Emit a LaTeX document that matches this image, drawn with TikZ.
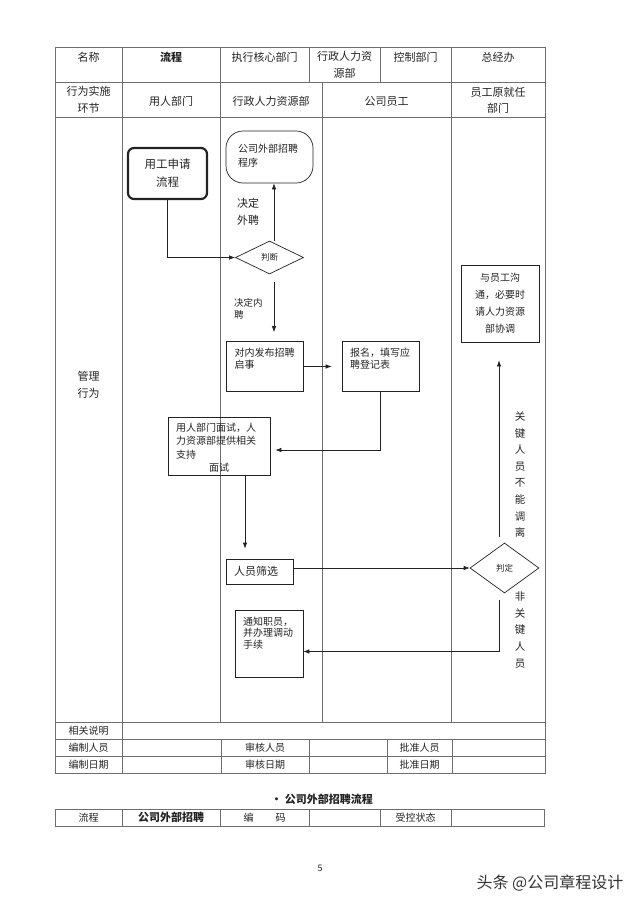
\documentclass[tikz,border=0pt]{standalone}
\usepackage{fontspec}
\setmainfont{Noto Sans CJK SC}
\usetikzlibrary{shapes.geometric,arrows.meta}
\definecolor{tabgray}{RGB}{110,110,110}
\definecolor{inkgray}{RGB}{35,35,35}
\newcommand{\boxtxt}[3]{\parbox[t][#2][t]{#1}{#3}}

\begin{document}
\begin{tikzpicture}[x=1pt,y=-1pt,
    tabline/.style={draw=tabgray,line width=0.6pt},
    flowline/.style={draw=inkgray,line width=0.7pt},
    >={Latex[length=6pt,width=4.5pt]},
    hdcell/.style={text=inkgray,font=\fontsize{11}{16.5}\selectfont,align=center,inner sep=0pt},
    smallcell/.style={hdcell,font=\fontsize{10}{12}\selectfont},
    flowbox/.style={draw=inkgray,line width=0.7pt,inner sep=0pt,text=inkgray,font=\fontsize{10}{12.5}\selectfont},
    decision/.style={diamond,draw=inkgray,line width=0.7pt,inner sep=0pt,text=inkgray,font=\fontsize{8.5}{10}\selectfont},
    vlabel/.style={text=inkgray,font=\fontsize{10.5}{16.6}\selectfont,align=center,inner sep=0pt},
]
    \useasboundingbox (0,0) rectangle (640,905);
    %
    % Independent parameters
    \def\tabL{55}                                    % table left
    \def\tabR{545}                                   % table right
    \def\tabT{47}                                    % table top
    \def\tabB{773}                                   % table bottom
    %
    % draw table
    \draw[tabline] (\tabL,\tabT) rectangle (\tabR,\tabB);
    \foreach \y in {82,117,722,739,756}
        \draw[tabline] (\tabL,\y) -- (\tabR,\y);
    \foreach \x/\ya/\yb in {122/47/773,220/47/722,221/739/773,309/47/82,309/739/773,
                            380/47/82,387/739/773,322/82/722,451/47/722,452/739/773}
        \draw[tabline] (\x,\ya) -- (\x,\yb);
    %
    % write table labels
    \foreach
    [
        count=\i,
    ]
    \x/\y/\txt in {88.5/57/名称,171/57/\textbf{流程},264.5/57/执行核心部门,
                   344.5/65/行政人力资\\源部,415.5/57/控制部门,498/57/总经办,
                   88.5/100/行为实施\\环节,171/101/用人部门,271/101/行政人力资源部,
                   386.5/101/公司员工,498/100.5/员工原就任\\部门,88.5/385/管理\\行为}%
    {
     \node[hdcell] (hd\i) at (\x,\y) {\txt};
    }
    \foreach
    [
        count=\i,
    ]
    \x/\y/\txt in {88.5/730.5/相关说明,88.5/747.5/编制人员,265/747.5/审核人员,
                   419.5/747.5/批准人员,88.5/765/编制日期,265/765/审核日期,
                   419.5/765/批准日期}%
    {
     \node[smallcell] (ft\i) at (\x,\y) {\txt};
    }
    %
    % draw boxes
    \node[flowbox,rounded corners=6pt,line width=2.2pt,minimum width=79,minimum height=51,
          align=center,font=\fontsize{11.5}{18}\selectfont] (apply) at (167.5,173.5) {用工申请\\流程};
    \node[flowbox,rounded corners=17pt,minimum width=87,minimum height=52,inner xsep=12pt,
          inner ysep=13pt,font=\fontsize{10}{14}\selectfont] (extprog) at (269.5,157)
          {\boxtxt{63pt}{26pt}{公司外部招聘\\程序}};
    \node[decision,minimum width=68,minimum height=33] (judge) at (269.5,257.5) {判断};
    \node[flowbox,inner xsep=8.5pt,inner ysep=6.5pt] (inner) at (264.5,366.5)
          {\boxtxt{60pt}{37pt}{对内发布招聘\\启事}};
    \node[flowbox,inner xsep=8pt,inner ysep=6.5pt] (signup) at (380.5,366.5)
          {\boxtxt{61pt}{37pt}{报名，填写应\\聘登记表}};
    \node[flowbox,inner xsep=8pt,inner ysep=6pt,font=\fontsize{10}{13.3}\selectfont] (interview) at (219,446)
          {\boxtxt{86pt}{46pt}{用人部门面试，人\\力资源部提供相关\\支持\par\centering 面试\par}};
    \node[flowbox,minimum height=25,inner xsep=8pt,text width=51pt,align=left,
          font=\fontsize{11}{13}\selectfont] (screen) at (259.5,571.5) {人员筛选};
    \node[decision,minimum width=69,minimum height=50] (decide) at (504.5,568) {判定};
    \node[flowbox,minimum width=78,minimum height=77,align=center,
          font=\fontsize{10}{17}\selectfont] (talk) at (500,303.5) {与员工沟\\通，必要时\\请人力资源\\部协调};
    \node[flowbox,inner xsep=8pt,inner ysep=6.7pt,font=\fontsize{10}{11.8}\selectfont] (notify) at (269,643.5)
          {\boxtxt{52pt}{53.6pt}{通知职员，\\并办理调动\\手续}};
    %
    % write branch labels
    \node[vlabel,anchor=west,align=left,font=\fontsize{11}{17}\selectfont] (outLbl) at (237,211.5) {决定\\外聘};
    \node[vlabel,anchor=west,align=left,font=\fontsize{9.5}{12.5}\selectfont] (inLbl) at (234,309) {决定内\\聘};
    \node[vlabel] (keyLbl) at (520,474.7) {关\\键\\人\\员\\不\\能\\调\\离};
    \node[vlabel] (nonkeyLbl) at (520,630) {非\\关\\键\\人\\员};
    %
    % draw connectors
    \draw[flowline,->] (apply.south) |- (judge.west);
    \draw[flowline,->] ([xshift=4.5]judge.north) -- ([xshift=4.5]judge.north |- extprog.south);
    \draw[flowline,->,shorten <=8pt,shorten >=9pt]
        ([xshift=4.5]judge.south) -- ([xshift=4.5]judge.south |- inner.north);
    \draw[flowline,->,shorten >=10pt] (inner.east) -- (signup.west);
    \draw[flowline,->,shorten >=5pt] (signup.south) |- ([yshift=-4]interview.east);
    \draw[flowline,->,shorten >=10pt]
        ([xshift=26]interview.south) -- ([xshift=26]interview.south |- screen.north);
    \draw[flowline,->] (screen.east |- decide.west) -- (decide.west);
    \draw[flowline,->,shorten <=6pt,shorten >=18pt]
        ([xshift=-5.5]decide.north) -- ([xshift=-5.5]decide.north |- talk.south);
    \draw[flowline,->,shorten <=7pt] ([xshift=-5.5]decide.south) |- ([yshift=-8]notify.east);
    %
    % write bottom line
    \node[font=\bfseries\fontsize{11}{13}\selectfont,text=inkgray] (title) at (322,799.5) {• 公司外部招聘流程};
    \draw[tabline] (\tabL,809) rectangle (544,826);
    \foreach \x in {122,220,309,380,451}
        \draw[tabline] (\x,809) -- (\x,826);
    \node[smallcell] (rowA) at (88.5,817.5) {流程};
    \node[hdcell,font=\bfseries\fontsize{11}{13}\selectfont] (rowB) at (171,817.5) {公司外部招聘};
    \node[smallcell] (rowC) at (264.5,817.5) {编\hspace{22pt}码};
    \node[smallcell] (rowD) at (415.5,817.5) {受控状态};
    \node[font=\fontsize{9}{10}\selectfont,text=inkgray] (pgnum) at (320,868) {5};
    \node[font=\fontsize{16}{18}\selectfont,text=black!80] (mark) at (550,883) {头条 @公司章程设计};
\end{tikzpicture}
\end{document}
